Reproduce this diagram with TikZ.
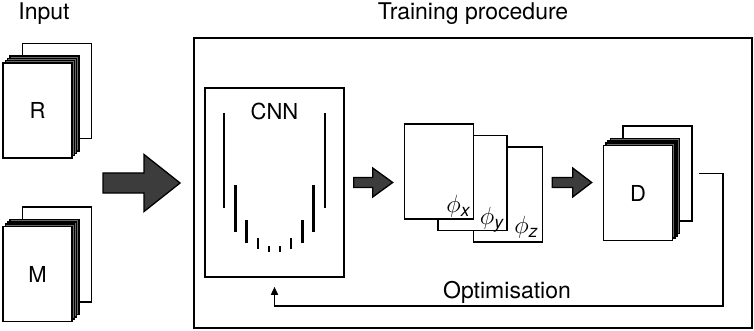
\documentclass[tikz,border=0pt]{standalone}
\usepackage{amsmath}
\usepackage{fontspec}
\setmainfont{TeX Gyre Heros}
\usetikzlibrary{arrows.meta,positioning,calc}
\definecolor{arrowgray}{RGB}{60,60,60}
\definecolor{stackgray}{RGB}{105,105,105}

%% fat block arrow: start, tip, half shaft, half head, head length
\newcommand{\fatarrow}[5]{%
  \draw[fatarr] ($(#1)+(0,-#3)$) -- ($(#2)+(-#5,-#3)$) -- ($(#2)+(-#5,-#4)$)
    -- (#2) -- ($(#2)+(-#5,#4)$) -- ($(#2)+(-#5,#3)$) -- ($(#1)+(0,#3)$) -- cycle;}

%% stack of sheets: name, centre of front sheet, label
\newcommand{\sheetstack}[3]{%
  \node[sheet] (#1b) at ($(#2)+(19.5,-19.5)$) {};
  \foreach \k in {3,2,1}
    \node[sheet,fill=stackgray] at ($(#2)+(2.3*\k,-2.3*\k)$) {};
  \node[sheet] (#1) at (#2) {#3};}

\begin{document}
\begin{tikzpicture}[
  x=1pt,y=-1pt,
  lbl/.style={font=\fontsize{22}{26}\selectfont},
  ttl/.style={font=\fontsize{23}{27}\selectfont},
  phl/.style={font=\fontsize{25}{29}\selectfont,anchor=base east,inner sep=0pt},
  sheet/.style={draw,fill=white,line width=1.6pt,minimum width=69pt,
    minimum height=95pt,inner sep=0pt,lbl},
  fatarr/.style={draw=black,fill=arrowgray,line width=1.3pt,line join=miter},
  bar/.style={line width=2.1pt},
  fb/.style={line width=1.6pt,-{Triangle[length=8pt,width=7pt]}},
]
\useasboundingbox (0,0) rectangle (754,331);

%% ── Input stacks ─────────────────────────────────────────────────────────
\node[ttl,anchor=base] at (44,20) {Input};
\sheetstack{R}{37.5,110.5}{R}
\sheetstack{M}{37.5,274}{M}

%% ── Training box ─────────────────────────────────────────────────────────
\node[draw,line width=1.9pt,minimum width=558pt,minimum height=290pt,
  inner sep=0pt] (train) at (473,183) {};
\node[ttl,anchor=base] at ([yshift=18pt]train.north) {Training procedure};

%% CNN block
\node[draw,line width=1.6pt,minimum width=139pt,minimum height=189pt,
  inner sep=0pt] (cnn) at (274.5,182.5) {};
\node[lbl] (cnnlbl) at ([yshift=-24.5pt]cnn.north) {CNN};
\foreach \dx/\ya/\yb in {50.5/-69.5/25.5, 39/2.5/49.5, 28/37.5/60.5,
                         16.5/55.5/66.5, 5.5/63.5/69.5} {
  \draw[bar] ($(cnn.center)+(-\dx,\ya)$) -- ($(cnn.center)+(-\dx,\yb)$);
  \draw[bar] ($(cnn.center)+(\dx,\ya)$) -- ($(cnn.center)+(\dx,\yb)$);
}

%% displacement fields
\node[sheet] (phz) at (508,194.5) {};
\node[sheet] (phy) at ($(phz)+(-35.5,-11.5)$) {};
\node[sheet] (phx) at ($(phy)+(-33.5,-11.5)$) {};
\node[phl] at ([xshift=-4pt,yshift=7pt]phx.south east)
  {$\phi_{\text{\itshape x}}$};
\node[phl] at ([xshift=-4pt,yshift=7pt]phy.south east)
  {$\phi_{\text{\itshape y}}$};
\node[phl] at ([xshift=-5pt,yshift=9pt]phz.south east)
  {$\phi_{\text{\itshape z}}$};

%% output stack
\sheetstack{D}{638,193}{D}

%% ── Block arrows ─────────────────────────────────────────────────────────
\coordinate (a1e) at ([xshift=-13pt]train.west);
\coordinate (a1s) at ($(a1e)+(-77,0)$);
\coordinate (a2s) at ([xshift=9pt]cnn.east);
\coordinate (a2e) at ([xshift=-11pt]phx.west |- cnn.east);
\coordinate (a3s) at ([xshift=9pt]phz.east |- cnn.east);
\coordinate (a3e) at ([xshift=-11pt]D.west |- cnn.east);
\fatarrow{a1s}{a1e}{10}{28.5}{36}
\fatarrow{a2s}{a2e}{5}{14.5}{20}
\fatarrow{a3s}{a3e}{5}{14.5}{19}

%% ── Optimisation loop ────────────────────────────────────────────────────
\draw[fb] ([xshift=6pt]Db.east) -- ++(24,0) |- ($(cnn.south)+(0,28)$)
  -- ([yshift=-9pt]cnn.south);
\node[ttl,anchor=base] (opt) at (507,298) {Optimisation};

\end{tikzpicture}
\end{document}
